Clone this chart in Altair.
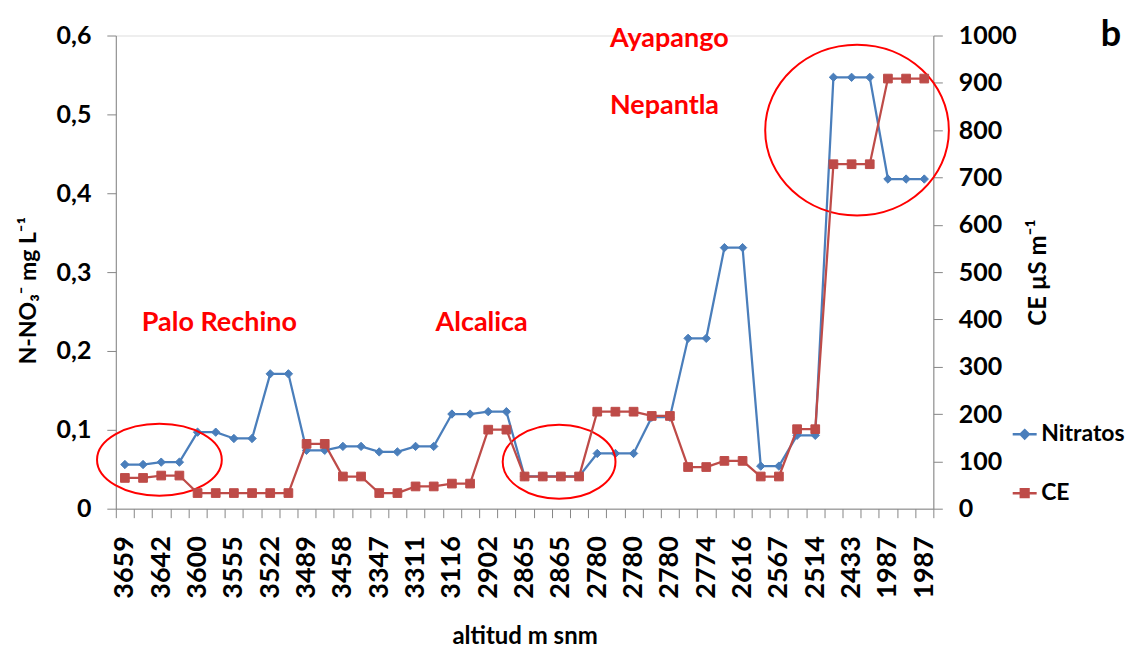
import json
import altair as alt
import pandas as pd

# ---------------- data ----------------
tick_labels = ["3659", "3642", "3600", "3555", "3522", "3489", "3458", "3347",
               "3311", "3116", "2902", "2865", "2865", "2780", "2780", "2780",
               "2774", "2616", "2567", "2514", "2433", "1987", "1987"]

nitratos = [0.056, 0.056, 0.059, 0.059, 0.097, 0.097, 0.089, 0.089, 0.171, 0.171,
            0.074, 0.074, 0.079, 0.079, 0.072, 0.072, 0.079, 0.079, 0.120, 0.120,
            0.123, 0.123, 0.041, 0.041, 0.041, 0.041, 0.070, 0.070, 0.070, 0.116,
            0.116, 0.216, 0.216, 0.331, 0.331, 0.054, 0.054, 0.093, 0.093, 0.547,
            0.547, 0.547, 0.418, 0.418, 0.418]

ce = [65, 65, 70, 70, 33, 33, 33, 33, 33, 33,
      137, 137, 68, 68, 33, 33, 47, 47, 53, 53,
      167, 167, 68, 68, 68, 68, 205, 205, 205, 196,
      196, 88, 88, 101, 101, 68, 68, 168, 168, 728,
      728, 728, 909, 909, 909]

series_names = ["Nitratos", "CE"]
series_colors = ["#4A7EBB", "#BE4B48"]

ann_text = ["Palo Rechino", "Alcalica", "Ayapango", "Nepantla"]
ann_x = [0.93, 17.1, 26.7, 26.7]
ann_y = [0.235, 0.235, 0.596, 0.510]

ell_x = [1.9, 23.9, 40.3]
ell_y = [0.062, 0.0595, 0.480]

# ---------------- tables ----------------
idx = list(range(len(nitratos)))
df_n = pd.DataFrame({"idx": idx, "valor": nitratos})
df_c = pd.DataFrame({"idx": idx, "valor": ce})
df_ann = pd.DataFrame({"t": ann_text, "x": ann_x, "y": ann_y})
df_leg = pd.DataFrame({"serie": series_names, "idx": [idx[0]] * 2,
                       "valor": [nitratos[0]] * 2})

FONT = "Lato"
GRAY = "#868686"
N = len(idx)

x_scale = alt.Scale(domain=[-0.5, N - 0.5], nice=False, zero=False)
half = [i - 0.5 for i in range(N + 1)]
evens = list(range(0, N, 2))
tick_vals = sorted(half + evens)
label_expr = ("datum.value % 2 === 0 ? " + json.dumps(tick_labels)
              + "[datum.value / 2] : ''")

x_axis = alt.Axis(
    values=tick_vals, labelExpr=label_expr, labelAngle=270, labelOverlap=False,
    labelFont=FONT, labelFontSize=27, labelFontWeight="bold", labelColor="black",
    labelPadding=18, tickSize=9, tickColor=GRAY, domainColor=GRAY, domainWidth=1,
    tickOpacity={"condition": {"test": "datum.value % 1 === 0", "value": 0}, "value": 1},
    grid=False, title="altitud m snm", titleFont=FONT, titleFontSize=24,
    titleFontWeight="bold", titleColor="black", titlePadding=26, labelFlush=False,
)

yl_scale = alt.Scale(domain=[0, 0.6], nice=False, zero=True)
yr_scale = alt.Scale(domain=[0, 1000], nice=False, zero=True)

yl_axis = alt.Axis(
    values=[0, 0.1, 0.2, 0.3, 0.4, 0.5, 0.6], orient="left",
    labelExpr="replace(format(datum.value, '.1~f'), '.', ',')",
    labelFont=FONT, labelFontSize=25, labelFontWeight="bold", labelColor="black",
    labelPadding=16, tickSize=9, tickColor=GRAY, domainColor=GRAY, grid=False,
    title="N-NO₃⁻ mg L⁻¹", titleFont=FONT, titleFontSize=23, titleFontWeight="bold",
    titleColor="black", titlePadding=16, titleY=255,
)
yr_axis = alt.Axis(
    values=list(range(0, 1001, 100)), orient="right", format="d",
    labelFont=FONT, labelFontSize=25, labelFontWeight="bold", labelColor="black",
    labelPadding=16, tickSize=9, tickColor=GRAY, domainColor=GRAY, grid=False,
    title="CE µS m⁻¹", titleFont=FONT, titleFontSize=24, titleFontWeight="bold",
    titleColor="black", titlePadding=10, titleAngle=270, titleBaseline="top",
)

color_scale = alt.Scale(domain=series_names, range=series_colors)
legend_shapes = [
    "M -1 0 L 1 0 M 0 -0.34 L 0.34 0 L 0 0.34 L -0.34 0 Z",
    "M -1 0 L 1 0 M -0.32 -0.32 L 0.32 -0.32 L 0.32 0.32 L -0.32 0.32 Z",
]
shape_scale = alt.Scale(domain=series_names, range=legend_shapes)

legend = alt.Legend(
    title=None, orient="none", legendX=897, legendY=386,
    labelFont=FONT, labelFontSize=23, labelFontWeight="bold", labelColor="black",
    symbolSize=576, symbolStrokeWidth=2.5, symbolOpacity=1, rowPadding=33,
    labelOffset=3,
)

X = alt.X("idx:Q", scale=x_scale, axis=x_axis)
YL = alt.Y("valor:Q", scale=yl_scale, axis=yl_axis)
YR = alt.Y("valor:Q", scale=yr_scale, axis=yr_axis)

# invisible layer that only carries the legend
leg_layer = alt.Chart(df_leg).mark_point(filled=True, opacity=0, strokeWidth=2.5).encode(
    x=X, y=YL,
    fill=alt.Fill("serie:N", scale=color_scale, legend=legend),
    stroke=alt.Stroke("serie:N", scale=color_scale, legend=legend),
    shape=alt.Shape("serie:N", scale=shape_scale, legend=legend))

nit_line = alt.Chart(df_n).mark_line(color=series_colors[0], strokeWidth=2.25).encode(
    x=X, y=YL)
nit_pts = alt.Chart(df_n).mark_point(
    shape="diamond", filled=True, opacity=1, size=70, strokeWidth=1,
    fill=series_colors[0], stroke=series_colors[0]).encode(x=X, y=YL)

def ellipse_path(ratio):
    return f"M -1 0 A 1 {ratio} 0 1 1 1 0 A 1 {ratio} 0 1 1 -1 0 Z"

ell_shapes = [(125, 72), (113, 74), (184, 171)]
ell_layers = []
for i, (w, h) in enumerate(ell_shapes):
    d = pd.DataFrame({"x": [ell_x[i]], "y": [ell_y[i]]})
    ell_layers.append(
        alt.Chart(d).mark_point(shape=ellipse_path(round(h / w, 3)), size=w * w,
                                filled=False, stroke="#FF0000", strokeWidth=2,
                                opacity=1).encode(
            x=alt.X("x:Q", scale=x_scale, axis=x_axis),
            y=alt.Y("y:Q", scale=yl_scale, axis=yl_axis)))

ann = alt.Chart(df_ann).mark_text(align="left", baseline="middle", font=FONT,
                                  fontSize=27, fontWeight="bold", color="#FF0000").encode(
    x=alt.X("x:Q", scale=x_scale, axis=x_axis),
    y=alt.Y("y:Q", scale=yl_scale, axis=yl_axis), text="t:N")

panel = alt.Chart(df_ann.head(1)).mark_text(
    text="b", font=FONT, fontSize=36, fontWeight="bold", color="black",
    align="center", baseline="alphabetic").encode(x=alt.value(997), y=alt.value(10))

left = alt.layer(leg_layer, nit_line, nit_pts, *ell_layers, ann, panel)

ce_line = alt.Chart(df_c).mark_line(color=series_colors[1], strokeWidth=2.25).encode(
    x=X, y=YR)
ce_pts = alt.Chart(df_c).mark_point(
    shape="square", filled=True, opacity=1, size=76, strokeWidth=1,
    fill=series_colors[1], stroke=series_colors[1]).encode(x=X, y=YR)
right = alt.layer(ce_line, ce_pts)

chart = alt.layer(left, right).resolve_scale(y="independent").properties(
    width=819, height=474,
    padding={"left": 9, "top": 8, "right": 0, "bottom": 0},
).configure_view(stroke=None).configure(background="white")

chart.save("out.html", embed_options={"renderer": "svg", "actions": False})
